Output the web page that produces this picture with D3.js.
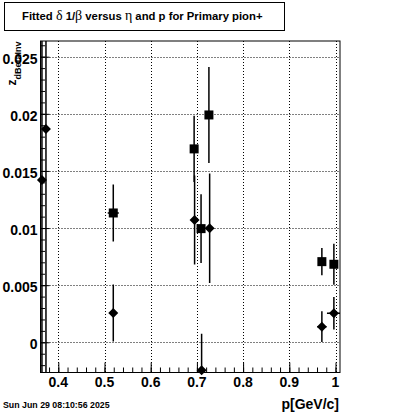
<!DOCTYPE html>
<html>
<head>
<meta charset="utf-8">
<script src="https://cdn.jsdelivr.net/npm/d3@7"></script>
<style>
  body { margin: 0; background: #fff; }
  svg { display: block; }
  text { font-family: "Liberation Sans", Arial, sans-serif; font-weight: bold; }
</style>
</head>
<body>
<div id="chart"></div>
<script>
const WIDTH = 400;
const HEIGHT = 414;
const frame = { left: 40.5, right: 340, top: 41, bottom: 372.5 };

// series drawn with squares
const squareP = [0.519, 0.694, 0.709, 0.726, 0.9705, 0.9965];
const squareZ = [0.01132, 0.01693, 0.00995, 0.0199, 0.00706, 0.00683];
const squareErrZ = [0.0025, 0.0029, 0.003, 0.0042, 0.0012, 0.0018];
const squareErrP = [0.012, 0.005, 0.005, 0.005, 0.005, 0.008];

// series drawn with diamonds
const diamondP = [0.3646, 0.3733, 0.519, 0.695, 0.7102, 0.7276, 0.9705, 0.9965];
const diamondZ = [0.01421, 0.01868, 0.00257, 0.01071, -0.00245, 0.00998, 0.00137, 0.00254];
const diamondErrZ = [0.03, 0.03, 0.0025, 0.0039, 0.0032, 0.0048, 0.00134, 0.00143];
const diamondErrP = [0.005, 0.005, 0.005, 0.005, 0.005, 0.005, 0.01, 0.015];

const xTicks = [0.4, 0.5, 0.6, 0.7, 0.8, 0.9, 1.0];
const xTickLabels = ['0.4', '0.5', '0.6', '0.7', '0.8', '0.9', '1'];
const yTicks = [0, 0.005, 0.01, 0.015, 0.02, 0.025];
const yTickLabels = ['0', '0.005', '0.01', '0.015', '0.02', '0.025'];

const x = d3.scaleLinear().domain([0.36147, 1.00974]).range([frame.left, frame.right]);
const y = d3.scaleLinear().domain([-0.002644, 0.026374]).range([frame.bottom, frame.top]);

const svg = d3.select('#chart').append('svg')
  .attr('width', WIDTH)
  .attr('height', HEIGHT);

svg.append('rect').attr('width', WIDTH).attr('height', HEIGHT).attr('fill', '#fff');

svg.append('defs').append('clipPath').attr('id', 'clip')
  .append('rect')
  .attr('x', frame.left).attr('y', frame.top)
  .attr('width', frame.right - frame.left).attr('height', frame.bottom - frame.top);

// dotted grid
const grid = svg.append('g').attr('stroke', '#000').attr('stroke-width', 1).attr('stroke-dasharray', '1,2');
grid.selectAll('line.gx').data(xTicks).enter().append('line')
  .attr('x1', d => Math.round(x(d)) + 0.5).attr('x2', d => Math.round(x(d)) + 0.5)
  .attr('y1', frame.top).attr('y2', frame.bottom);
grid.selectAll('line.gy').data(yTicks).enter().append('line')
  .attr('y1', d => Math.round(y(d)) + 0.5).attr('y2', d => Math.round(y(d)) + 0.5)
  .attr('x1', frame.left).attr('x2', frame.right);

// axes with inside ticks
const xAxis = d3.axisBottom(x).tickValues(d3.range(0.38, 1.0001, 0.02)).tickSize(-5).tickFormat('');
svg.append('g').attr('transform', `translate(0,${frame.bottom})`).call(xAxis);
const xAxisMajor = d3.axisBottom(x).tickValues(xTicks).tickSize(-10).tickFormat('');
svg.append('g').attr('transform', `translate(0,${frame.bottom})`).call(xAxisMajor);

const yAxis = d3.axisLeft(y).tickValues(d3.range(-0.002, 0.0261, 0.001)).tickSize(-4.5).tickFormat('');
svg.append('g').attr('transform', `translate(${frame.left},0)`).call(yAxis);
const yAxisMajor = d3.axisLeft(y).tickValues(yTicks).tickSize(-9).tickFormat('');
svg.append('g').attr('transform', `translate(${frame.left},0)`).call(yAxisMajor);

svg.selectAll('.domain').remove();
svg.selectAll('.tick line').attr('stroke', '#000').attr('stroke-width', 1);

// frame
svg.append('rect')
  .attr('x', frame.left).attr('y', frame.top)
  .attr('width', frame.right - frame.left).attr('height', frame.bottom - frame.top)
  .attr('fill', 'none').attr('stroke', '#000').attr('stroke-width', 1);

// tick labels
svg.selectAll('text.xl').data(xTicks).enter().append('text')
  .attr('x', d => x(d)).attr('y', 387)
  .attr('text-anchor', 'middle').attr('font-size', 14)
  .text((d, i) => xTickLabels[i]);
svg.selectAll('text.yl').data(yTicks).enter().append('text')
  .attr('x', 37.5).attr('y', d => y(d) + 7)
  .attr('text-anchor', 'end').attr('font-size', 14)
  .text((d, i) => yTickLabels[i]);

// error bars
const makePoints = (ps, zs, ep, ez) => ps.map((p, i) => ({ p: p, z: zs[i], ep: ep[i], ez: ez[i] }));
const squares = makePoints(squareP, squareZ, squareErrP, squareErrZ);
const diamonds = makePoints(diamondP, diamondZ, diamondErrP, diamondErrZ);

const errs = svg.append('g').attr('clip-path', 'url(#clip)').attr('stroke', '#000').attr('stroke-width', 1.5);
[squares, diamonds].forEach(pts => {
  errs.selectAll(null).data(pts).enter().append('line')
    .attr('x1', d => x(d.p)).attr('x2', d => x(d.p))
    .attr('y1', d => y(d.z - d.ez)).attr('y2', d => y(d.z + d.ez));
  errs.selectAll(null).data(pts).enter().append('line')
    .attr('x1', d => x(d.p - d.ep)).attr('x2', d => x(d.p + d.ep))
    .attr('y1', d => y(d.z)).attr('y2', d => y(d.z));
});

// markers
svg.selectAll('rect.sq').data(squares).enter().append('rect')
  .attr('x', d => x(d.p) - 4.5).attr('y', d => y(d.z) - 4.5)
  .attr('width', 9).attr('height', 9).attr('fill', '#000');
svg.selectAll('path.dm').data(diamonds).enter().append('path')
  .attr('d', d => {
    const cx = x(d.p);
    const cy = y(d.z);
    return `M${cx - 5},${cy}L${cx},${cy - 5}L${cx + 5},${cy}L${cx},${cy + 5}Z`;
  })
  .attr('fill', '#000');

// y axis title
const yTitle = svg.append('text')
  .attr('transform', 'translate(16,41.5) rotate(-90)')
  .attr('text-anchor', 'end');
yTitle.append('tspan').attr('font-size', 12).text('z');
yTitle.append('tspan').attr('font-size', 9).attr('dy', 4.5).text('dBetaInv');

// x axis title
svg.append('text')
  .attr('x', 339).attr('y', 409)
  .attr('text-anchor', 'end').attr('font-size', 14)
  .text('p[GeV/c]');

// date stamp
svg.append('text')
  .attr('x', 3).attr('y', 407.5)
  .attr('font-size', 8.8)
  .text('Sun Jun 29 08:10:56 2025');

// title box
svg.append('rect')
  .attr('x', 4.5).attr('y', 2.5).attr('width', 280).attr('height', 28)
  .attr('fill', '#fff').attr('stroke', '#000').attr('stroke-width', 1);
const title = svg.append('text').attr('x', 22).attr('y', 20).attr('font-size', 11.3);
const greek = { 'font-family': '"Liberation Serif", "DejaVu Serif", serif', 'font-weight': 'normal', 'font-size': 14 };
const parts = [['Fitted ', false], ['δ', true], [' 1/', false], ['β', true], [' versus ', false], ['η', true], [' and p for Primary pion+', false]];
parts.forEach(([t, isGreek]) => {
  const ts = title.append('tspan').text(t);
  if (isGreek) Object.entries(greek).forEach(([k, v]) => ts.attr(k, v));
});
</script>
</body>
</html>
